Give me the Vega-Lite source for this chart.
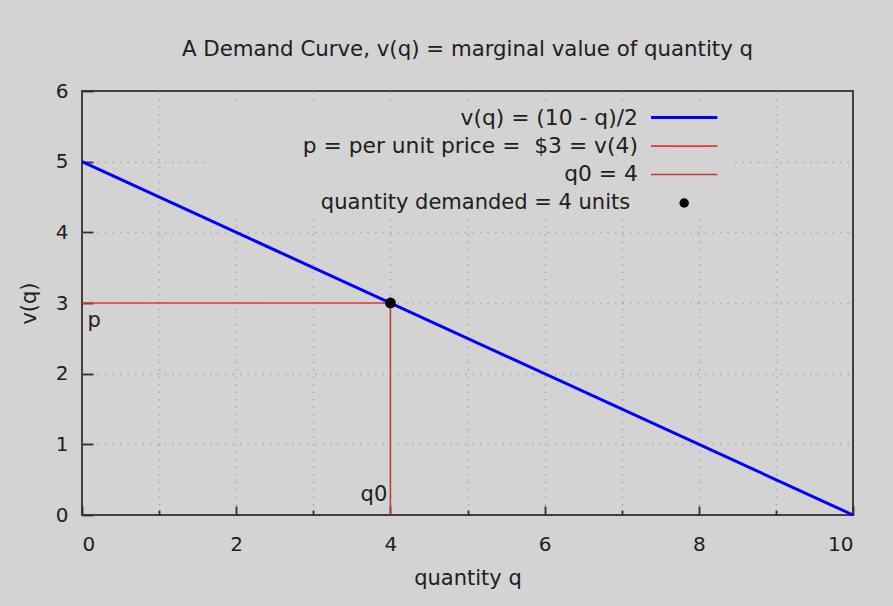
{
  "$schema": "https://vega.github.io/schema/vega-lite/v6.json",
  "width": 771,
  "height": 424,
  "autosize": {"type": "none"},
  "padding": {"left": 82, "top": 91, "right": 40, "bottom": 91},
  "background": "#d3d3d3",
  "config": {
    "font": "DejaVu Sans",
    "view": {"stroke": "#404040", "strokeWidth": 2, "fill": "#d3d3d3"},
    "axis": {
      "domain": false,
      "labelFont": "DejaVu Sans",
      "labelFontSize": 20,
      "labelColor": "#202020",
      "titleFont": "DejaVu Sans",
      "titleFontSize": 21,
      "titleFontWeight": "normal",
      "titleColor": "#202020",
      "tickColor": "#303030",
      "tickWidth": 1.8,
      "grid": true,
      "gridColor": "#a8a8a8",
      "gridWidth": 1.5,
      "gridDash": [1.5, 6]
    }
  },
  "title": {
    "text": "A Demand Curve, v(q) = marginal value of quantity q",
    "font": "DejaVu Sans",
    "fontSize": 21.3,
    "fontWeight": "normal",
    "color": "#202020",
    "offset": 21
  },
  "datasets": {
    "curve": [{"q": 0, "v": 5}, {"q": 10, "v": 0}],
    "price": [{"q": 0, "v": 3}, {"q": 4, "v": 3}],
    "quantity": [{"q": 4, "v": 0}, {"q": 4, "v": 3}],
    "equilibrium": [{"q": 4, "v": 3}],
    "one": [{}]
  },
  "layer": [
    {
      "data": {"name": "curve"},
      "mark": {"type": "line", "color": "#0000ff", "strokeWidth": 3, "opacity": 0},
      "encoding": {
        "x": {
          "field": "q", "type": "quantitative",
          "scale": {"domain": [0, 10], "nice": false},
          "axis": {
            "title": "quantity q",
            "format": "d",
            "values": [0, 1, 2, 3, 4, 5, 6, 7, 8, 9, 10],
            "labelExpr": "datum.value % 2 === 0 ? datum.label : ''",
            "tickSize": {"condition": {"test": "datum.value % 2 === 0", "value": -9}, "value": -5},
            "gridOpacity": {"condition": {"test": "datum.value === 0 || datum.value === 10", "value": 0}, "value": 1},
            "labelPadding": 28,
            "titlePadding": 13
          }
        },
        "y": {
          "field": "v", "type": "quantitative",
          "scale": {"domain": [0, 6], "nice": false},
          "axis": {
            "title": "v(q)",
            "format": "d",
            "values": [0, 0.5, 1, 1.5, 2, 2.5, 3, 3.5, 4, 4.5, 5, 5.5, 6],
            "labelExpr": "datum.value % 1 === 0 ? datum.label : ''",
            "tickSize": {"condition": {"test": "datum.value % 1 === 0", "value": -11}, "value": -6},
            "gridOpacity": {"condition": {"test": "datum.value === 0 || datum.value === 6", "value": 0}, "value": 1},
            "labelPadding": 25,
            "titlePadding": 16
          }
        }
      }
    },
    {
      "data": {"name": "one"},
      "mark": {"type": "rect", "fill": "#d3d3d3"},
      "encoding": {
        "x": {"datum": 1.6, "type": "quantitative"},
        "x2": {"datum": 8.4},
        "y": {"datum": 5.84, "type": "quantitative"},
        "y2": {"datum": 4.25}
      }
    },
    {
      "data": {"name": "curve"},
      "mark": {"type": "line", "color": "#0000ff", "strokeWidth": 3},
      "encoding": {
        "x": {"field": "q", "type": "quantitative"},
        "y": {"field": "v", "type": "quantitative"}
      }
    },
    {
      "data": {"name": "price"},
      "mark": {"type": "line", "color": "#ee3535", "strokeWidth": 1.6},
      "encoding": {
        "x": {"field": "q", "type": "quantitative"},
        "y": {"field": "v", "type": "quantitative"}
      }
    },
    {
      "data": {"name": "quantity"},
      "mark": {"type": "line", "color": "#b83c3c", "strokeWidth": 1.5},
      "encoding": {
        "x": {"field": "q", "type": "quantitative"},
        "y": {"field": "v", "type": "quantitative"}
      }
    },
    {
      "data": {"name": "equilibrium"},
      "mark": {"type": "point", "filled": true, "color": "#000000", "size": 120, "opacity": 1},
      "encoding": {
        "x": {"field": "q", "type": "quantitative"},
        "y": {"field": "v", "type": "quantitative"}
      }
    },
    {
      "data": {"name": "one"},
      "mark": {"type": "text", "text": "p", "align": "left", "baseline": "middle", "fontSize": 21, "color": "#202020"},
      "encoding": {"x": {"datum": 0.07, "type": "quantitative"}, "y": {"datum": 2.75, "type": "quantitative"}}
    },
    {
      "data": {"name": "one"},
      "mark": {"type": "text", "text": "q0", "align": "right", "baseline": "middle", "fontSize": 21, "color": "#202020"},
      "encoding": {"x": {"datum": 3.96, "type": "quantitative"}, "y": {"datum": 0.28, "type": "quantitative"}}
    },
    {
      "data": {"name": "one"},
      "mark": {"type": "text", "text": "v(q) = (10 - q)/2", "align": "right", "baseline": "middle", "fontSize": 21.8, "color": "#202020"},
      "encoding": {"x": {"datum": 7.21, "type": "quantitative"}, "y": {"datum": 5.62, "type": "quantitative"}}
    },
    {
      "data": {"name": "one"},
      "mark": {"type": "text", "text": "p = per unit price = \u00a0$3 = v(4)", "align": "right", "baseline": "middle", "fontSize": 21.8, "color": "#202020"},
      "encoding": {"x": {"datum": 7.21, "type": "quantitative"}, "y": {"datum": 5.22, "type": "quantitative"}}
    },
    {
      "data": {"name": "one"},
      "mark": {"type": "text", "text": "q0 = 4", "align": "right", "baseline": "middle", "fontSize": 21.8, "color": "#202020"},
      "encoding": {"x": {"datum": 7.21, "type": "quantitative"}, "y": {"datum": 4.82, "type": "quantitative"}}
    },
    {
      "data": {"name": "one"},
      "mark": {"type": "text", "text": "quantity demanded = 4 units", "align": "right", "baseline": "middle", "fontSize": 21, "color": "#202020"},
      "encoding": {"x": {"datum": 7.11, "type": "quantitative"}, "y": {"datum": 4.42, "type": "quantitative"}}
    },
    {
      "data": {"name": "one"},
      "mark": {"type": "rule", "color": "#0000ff", "strokeWidth": 3},
      "encoding": {"x": {"datum": 7.38, "type": "quantitative"}, "x2": {"datum": 8.24}, "y": {"datum": 5.625, "type": "quantitative"}}
    },
    {
      "data": {"name": "one"},
      "mark": {"type": "rule", "color": "#ee3535", "strokeWidth": 1.6},
      "encoding": {"x": {"datum": 7.38, "type": "quantitative"}, "x2": {"datum": 8.24}, "y": {"datum": 5.22, "type": "quantitative"}}
    },
    {
      "data": {"name": "one"},
      "mark": {"type": "rule", "color": "#b83c3c", "strokeWidth": 1.5},
      "encoding": {"x": {"datum": 7.38, "type": "quantitative"}, "x2": {"datum": 8.24}, "y": {"datum": 4.82, "type": "quantitative"}}
    },
    {
      "data": {"name": "one"},
      "mark": {"type": "point", "filled": true, "color": "#000000", "size": 90, "opacity": 1},
      "encoding": {"x": {"datum": 7.81, "type": "quantitative"}, "y": {"datum": 4.415, "type": "quantitative"}}
    }
  ]
}
